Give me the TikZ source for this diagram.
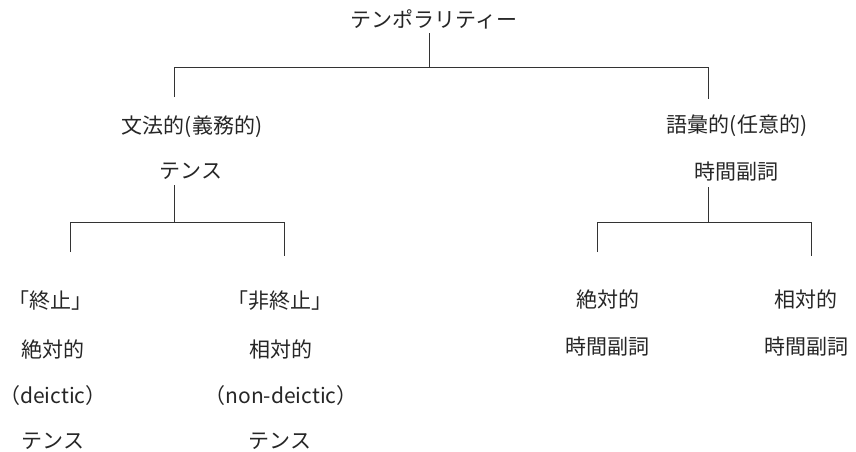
\documentclass[tikz,border=0pt]{standalone}
\usepackage{fontspec}
\setmainfont{Noto Sans CJK JP}
\begin{document}
\begin{tikzpicture}[x=1pt,y=-1pt,
  lbl/.style={inner sep=0pt,font=\fontsize{21}{24}\selectfont,text=black!85},
  conn/.style={draw=black!80,line width=0.9pt}]
\useasboundingbox (0,0) rectangle (856,451);
% texts
\node[lbl] (top) at (434,19) {テンポラリティー};
\node[lbl] (gram) at (192,127) {文法的(義務的)};
\node[lbl] (tense) at (191,171) {テンス};
\node[lbl] (lex) at (737,126) {語彙的(任意的)};
\node[lbl] (adv) at (736,172) {時間副詞};
\node[lbl] (t1) at (51,301) {「終止」};
\node[lbl] (a1) at (53,349) {絶対的};
\node[lbl] (d1) at (53,396) {（deictic）};
\node[lbl] (s1) at (53,441) {テンス};
\node[lbl] (t2) at (280,301) {「非終止」};
\node[lbl] (a2) at (281,349) {相対的};
\node[lbl] (d2) at (281,396) {（non-deictic）};
\node[lbl] (s2) at (280,441) {テンス};
\node[lbl] (r1) at (608,299) {絶対的};
\node[lbl] (q1) at (607,347) {時間副詞};
\node[lbl] (r2) at (806,299) {相対的};
\node[lbl] (q2) at (806,347) {時間副詞};
% junction coordinates
\coordinate (topS) at (429,33);
\coordinate (topJ) at (429,67);
\coordinate (gJ) at (174,67);
\coordinate (gE) at (174,97);
\coordinate (lJ) at (708,67);
\coordinate (lE) at (708,99);
\coordinate (tS) at (174,185);
\coordinate (tJ) at (174,222);
\coordinate (t1J) at (70,222);
\coordinate (t1E) at (70,252);
\coordinate (t2J) at (284,222);
\coordinate (t2E) at (284,256);
\coordinate (aS) at (708,187);
\coordinate (aJ) at (708,222);
\coordinate (r1J) at (597,222);
\coordinate (r1E) at (597,252);
\coordinate (r2J) at (811,222);
\coordinate (r2E) at (811,256);
% connectors
\draw[conn] (topS) -- (topJ);
\draw[conn] (gE) -- (gJ) -- (lJ) -- (lE);
\draw[conn] (tS) -- (tJ);
\draw[conn] (t1E) -- (t1J) -- (t2J) -- (t2E);
\draw[conn] (aS) -- (aJ);
\draw[conn] (r1E) -- (r1J) -- (r2J) -- (r2E);
\end{tikzpicture}
\end{document}
